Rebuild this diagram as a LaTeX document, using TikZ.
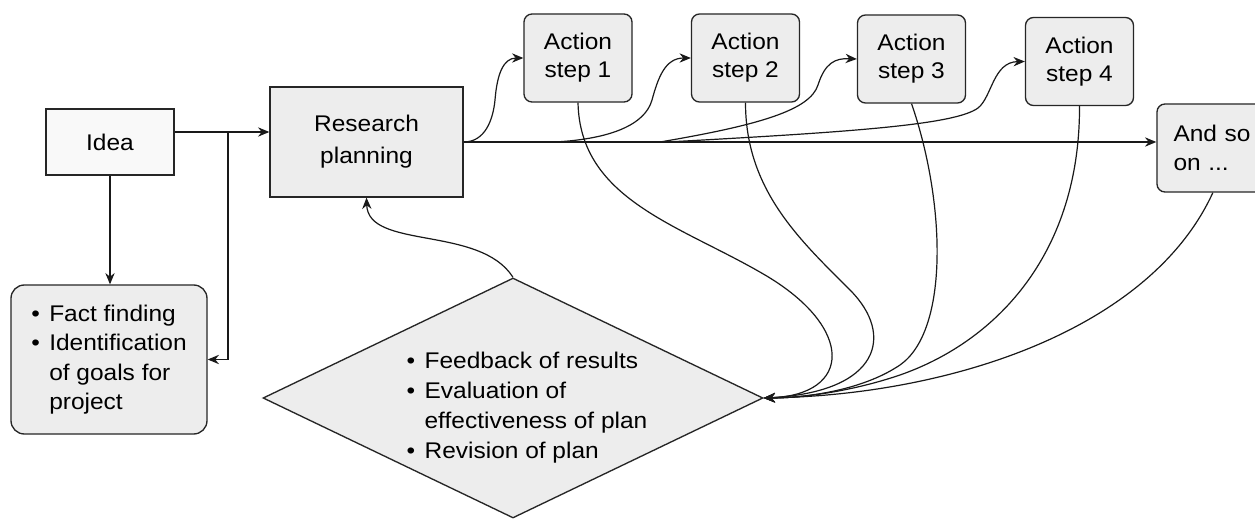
\documentclass[tikz,border=0pt]{standalone}
\usepackage{fontspec}
\setmainfont{Liberation Sans}[FakeStretch=1.08]
\usetikzlibrary{shapes.geometric,arrows.meta}
\newcommand\mybul{\makebox[13.5pt][l]{\textbullet}}
\newcommand\myind{\hspace*{13.5pt}}
\begin{document}
\begin{tikzpicture}[x=0.75pt,y=-0.75pt,
  boxbase/.style={draw=black!85, line width=1pt, fill=gray!14, inner sep=0pt,
                  font=\fontsize{17pt}{22pt}\selectfont},
  stepbox/.style={boxbase, rounded corners=6pt, minimum width=81pt, minimum height=66pt,
                  align=center, font=\fontsize{17pt}{21pt}\selectfont},
  conn/.style={line width=0.9pt, draw=black!90},
  arr/.style={conn, -{Stealth[length=8.5pt,width=7pt,inset=2.8pt]}}]
\useasboundingbox (0,0) rectangle (1255,520);
\clip (0,0) rectangle (1255,520);
\fill[white] (0,0) rectangle (1255,520);

% nodes
\node[boxbase, fill=gray!5, minimum width=96pt, minimum height=49.5pt] (idea) at (110,142) {Idea};
\node[boxbase, minimum width=144.75pt, minimum height=82.5pt, align=center,
      font=\fontsize{17pt}{24pt}\selectfont] (rp) at (366.5,142) {Research\\planning};
\node[stepbox] (s1) at (578,58) {Action\\step 1};
\node[stepbox] (s2) at (745.5,58) {Action\\step 2};
\node[stepbox] (s3) at (911.5,59) {Action\\step 3};
\node[stepbox] (s4) at (1079.5,61.5) {Action\\step 4};
\node[boxbase, rounded corners=6pt, minimum height=66pt, text width=75pt, inner xsep=12.4pt,
      align=left] (andso) at (1223.5,148) {And so\\ on ...};
\node[boxbase, rounded corners=10pt, minimum width=147pt, minimum height=111.75pt, align=left]
      (fact) at (109,359.5) {\mybul Fact finding\\ \mybul Identification\\ \myind of goals for\\ \myind project};
\node[boxbase, shape=diamond, minimum width=375pt, minimum height=180pt] (dia) at (513,398) {};
\node[align=left, inner sep=0pt, font=\fontsize{17pt}{22.5pt}\selectfont] (diatext) at (527,408)
      {\mybul Feedback of results\\ \mybul Evaluation of\\ \myind effectiveness of plan\\ \mybul Revision of plan};

% junctions
\coordinate (j1) at (228,132);
\coordinate (b2) at (555,142);
\coordinate (b3) at (660,142);
\coordinate (b4) at (667,142);

% idea connections
\draw[arr] (idea.east |- j1) -- (j1) -- (rp.west |- j1);
\draw[arr] (j1) |- (fact.east);
\draw[arr] (idea.south) -- (idea.south |- fact.north);

% main line
\draw[arr] (rp.east) -- (andso.west |- rp.east);

% branches to action steps
\draw[arr] (rp.east) .. controls (485,142) and (493,120) .. (495,100)
           .. controls (497,75) and (503,58) .. (s1.west);
\draw[arr] (b2) .. controls (610,139) and (645,125) .. (652,100)
           .. controls (658,78) and (665,58) .. (s2.west);
\draw[arr] (b3) .. controls (760,125) and (810,110) .. (818,85)
           .. controls (825,63) and (835,58) .. (s3.west);
\draw[arr] (b4) .. controls (850,132) and (955,125) .. (978,108)
           .. controls (992,97) and (993,62) .. (s4.west);

% returns to diamond
\draw[arr] (s1.south) .. controls (580,200) and (680,225) .. (765,275)
           .. controls (855,328) and (852,395) .. (dia.east);
\draw[arr] (s2.south) .. controls (745.5,190) and (800,240) .. (850,290)
           .. controls (895,335) and (880,392) .. (dia.east);
\draw[arr] (s3.south) .. controls (945,200) and (950,330) .. (900,365)
           .. controls (860,392) and (800,398) .. (dia.east);
\draw[arr] (s4.south) .. controls (1080,250) and (1000,340) .. (900,375)
           .. controls (850,392) and (800,398) .. (dia.east);
\draw[arr] ([xshift=-8pt]andso.south) .. controls (1150,330) and (950,395) .. (dia.east);

% feedback
\draw[arr] (dia.north) .. controls (480,225) and (368,250) .. (rp.south);
\end{tikzpicture}
\end{document}
